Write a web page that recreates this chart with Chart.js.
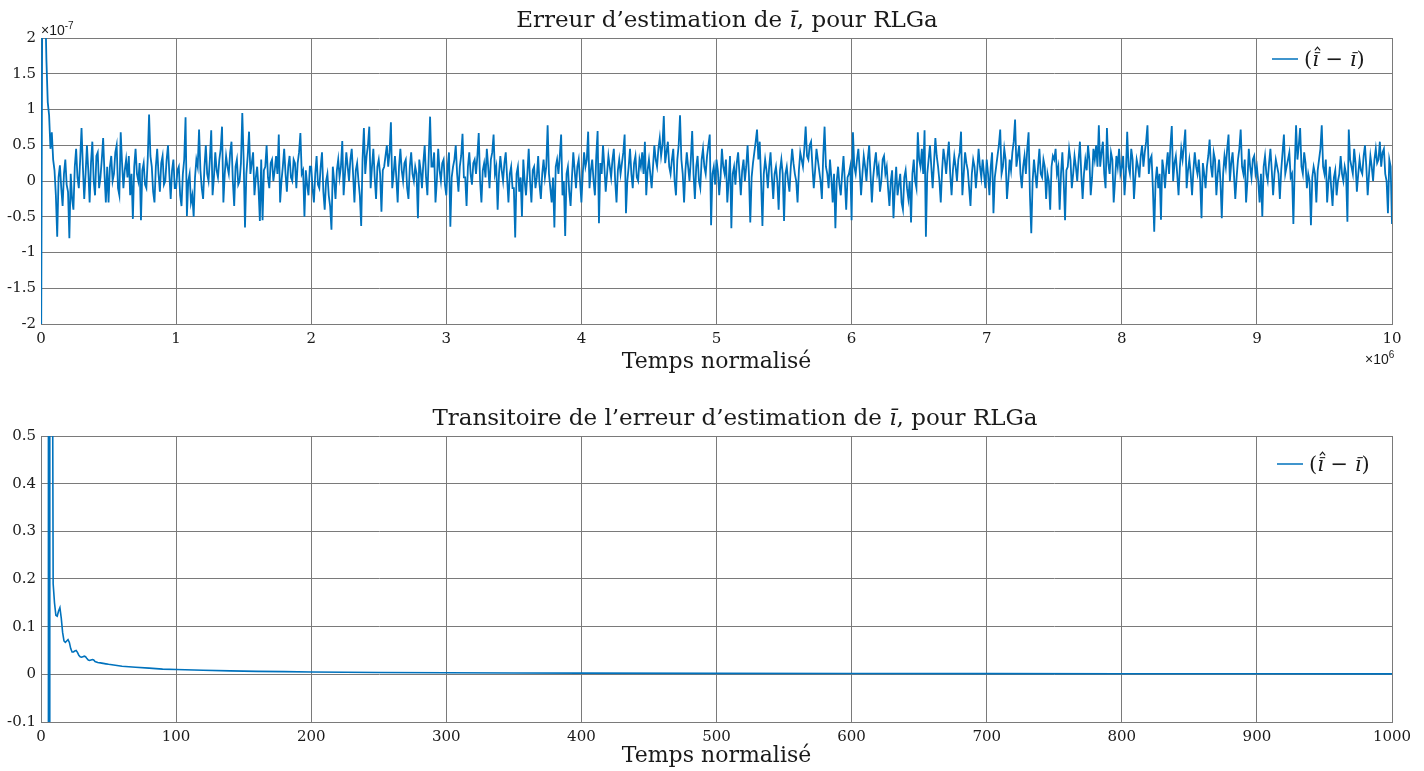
<!DOCTYPE html>
<html>
<head>
<meta charset="utf-8">
<title>Erreur d'estimation RLGa</title>
<script src="https://cdn.jsdelivr.net/npm/chart.js@4.4.1/dist/chart.umd.min.js"></script>
<style>
  html, body { margin: 0; padding: 0; background: #fff; }
  #wrap { position: relative; width: 1424px; height: 771px; }
  canvas { position: absolute; left: 0; }
  #top { top: 0; }
  #bottom { top: 385px; }
</style>
</head>
<body>
<div id="wrap">
  <canvas id="top" width="1424" height="385"></canvas>
  <canvas id="bottom" width="1424" height="386"></canvas>
</div>
<script>
// Data (top: x in 1e6, y in 1e-7 ; one sample every 0.01e6, 50 per row)

const errStep = 0.01;
const errValues = [
  -3.0, 3.0, 3.0, 2.6, 1.7, 1.1, 0.92, 0.45, 0.68, 0.3, 0.15, -0.2, -0.78, 0.05, 0.22, -0.1, -0.35, 0.1, 0.3, -0.05, -0.15, -0.8, 0.1, -0.25, -0.4,
  0.2, 0.45, 0.05, -0.1, 0.3, 0.74, 0.2, -0.25, 0.1, 0.5, 0.15, -0.3, 0.25, 0.55, 0.0, -0.2, 0.35, 0.4, -0.1, 0.05, 0.3, 0.6, 0.1, -0.3, 0.2,
  -0.3, 0.2, 0.35, 0.0, 0.1, 0.4, 0.5, -0.1, -0.2, 0.68, 0.25, -0.1, 0.15, 0.3, 0.05, 0.35, -0.2, 0.1, -0.53, 0.2, 0.45, 0.1, 0.0, 0.25, -0.55,
  0.15, 0.25, -0.05, -0.1, 0.3, 0.93, 0.35, 0.2, -0.15, -0.3, 0.2, 0.45, 0.1, -0.15, 0.25, 0.35, -0.05, 0.0, 0.3, 0.5, 0.1, -0.25, 0.15, 0.3, -0.1,
  -0.1, 0.15, 0.2, -0.2, -0.35, 0.1, 0.3, 0.89, -0.49, 0.0, 0.1, -0.3, -0.2, -0.5, 0.05, 0.3, 0.2, 0.72, 0.15, -0.1, -0.25, 0.2, 0.5, 0.1, 0.0,
  0.3, 0.71, -0.2, 0.05, 0.4, 0.15, 0.05, 0.3, 0.45, 0.76, -0.3, 0.1, 0.35, 0.2, 0.1, 0.4, 0.55, 0.0, -0.35, 0.2, 0.3, -0.05, 0.0, 0.25, 0.95,
  0.3, -0.65, 0.1, 0.35, 0.69, 0.1, 0.25, 0.4, -0.2, 0.05, 0.2, -0.1, -0.56, 0.3, -0.55, 0.15, 0.2, 0.5, 0.05, -0.1, 0.25, 0.3, 0.0, 0.15, 0.35,
  0.1, 0.65, -0.3, 0.0, 0.2, 0.45, 0.1, -0.15, 0.2, 0.35, 0.05, 0.0, 0.3, 0.25, -0.1, 0.25, 0.4, 0.67, 0.1, 0.15, -0.5, 0.15, -0.05, -0.2, 0.2,
  0.2, -0.1, -0.3, 0.1, 0.35, -0.05, -0.1, 0.2, 0.4, -0.15, -0.4, 0.0, 0.1, -0.2, -0.35, -0.68, 0.2, 0.0, -0.25, 0.15, 0.3, 0.05, 0.2, 0.56, -0.2,
  0.1, 0.4, 0.2, 0.0, 0.3, 0.45, 0.1, -0.3, 0.15, 0.25, 0.0, -0.2, -0.63, 0.3, 0.74, 0.1, 0.35, 0.5, 0.76, -0.1, 0.2, 0.45, 0.05, -0.25, 0.2,
  0.3, 0.1, -0.43, 0.15, 0.2, 0.35, 0.5, 0.2, 0.4, 0.82, -0.1, 0.1, 0.35, 0.05, -0.3, 0.2, 0.45, 0.15, 0.0, 0.25, 0.3, -0.1, -0.25, 0.2, 0.4,
  0.1, 0.0, 0.2, 0.1, -0.52, 0.3, 0.15, -0.1, 0.25, 0.5, 0.05, -0.2, 0.35, 0.9, 0.2, 0.2, 0.4, -0.3, 0.0, 0.45, 0.15, 0.0, 0.25, 0.3, -0.05,
  -0.2, 0.2, 0.4, -0.64, 0.05, 0.2, 0.3, 0.5, 0.1, -0.15, 0.2, 0.35, 0.66, 0.05, 0.05, -0.35, 0.2, 0.4, 0.1, -0.05, 0.25, 0.3, 0.1, 0.35, 0.67,
  0.0, -0.3, 0.15, 0.25, 0.05, 0.45, 0.2, -0.1, 0.3, 0.4, 0.65, 0.1, 0.2, -0.4, 0.1, 0.35, 0.15, 0.0, 0.25, 0.4, 0.05, -0.3, 0.1, 0.2, -0.1,
  -0.1, -0.79, 0.1, 0.2, -0.15, 0.05, -0.5, 0.3, 0.0, -0.2, 0.1, 0.45, 0.0, -0.3, 0.15, 0.2, -0.1, 0.05, 0.35, -0.05, -0.25, 0.1, 0.3, 0.05, 0.2,
  0.78, 0.1, -0.1, -0.3, 0.05, -0.65, 0.2, 0.3, 0.1, 0.35, 0.65, -0.2, 0.0, -0.77, 0.1, 0.2, -0.15, -0.35, 0.05, 0.4, 0.15, -0.1, 0.2, 0.3, 0.0,
  -0.3, 0.1, 0.4, 0.2, 0.3, 0.69, -0.1, 0.15, 0.3, 0.0, -0.2, 0.35, 0.7, -0.59, 0.25, 0.1, 0.5, 0.2, -0.15, 0.1, 0.35, 0.2, 0.05, 0.3, 0.45,
  0.0, -0.3, 0.15, 0.3, 0.1, 0.25, 0.4, 0.65, -0.45, 0.0, 0.2, 0.45, 0.1, -0.1, 0.25, 0.35, 0.05, 0.0, 0.3, 0.2, 0.4, 0.1, 0.55, -0.2, 0.15,
  0.3, 0.1, -0.1, 0.2, 0.5, 0.3, 0.2, 0.45, 0.6, 0.35, 0.5, 0.91, 0.25, 0.4, 0.55, 0.2, 0.1, 0.3, 0.45, 0.0, -0.2, 0.3, 0.5, 0.92, 0.3,
  0.1, -0.3, 0.15, 0.4, 0.2, 0.0, 0.3, 0.7, 0.1, -0.25, 0.2, 0.35, 0.0, -0.1, 0.3, 0.45, 0.2, 0.1, 0.35, 0.5, 0.65, -0.62, 0.1, 0.2, -0.05,
  0.3, 0.15, -0.2, 0.05, 0.45, 0.2, 0.1, 0.3, -0.3, 0.0, 0.35, -0.66, 0.1, 0.2, -0.05, 0.25, 0.4, 0.1, -0.2, 0.15, 0.3, 0.0, 0.2, 0.5, 0.1,
  -0.58, 0.05, 0.25, 0.4, 0.55, 0.72, 0.3, 0.55, 0.0, -0.63, 0.1, 0.3, 0.15, -0.1, 0.2, 0.4, 0.05, -0.25, 0.1, 0.2, 0.0, -0.4, 0.15, 0.3, 0.1,
  -0.56, 0.1, 0.2, 0.0, -0.15, 0.2, 0.45, 0.25, 0.1, 0.0, -0.3, 0.15, 0.4, 0.3, 0.2, 0.45, 0.76, 0.35, 0.3, 0.5, 0.55, 0.2, -0.1, 0.15, 0.45,
  0.3, 0.15, 0.0, -0.25, 0.35, 0.76, 0.2, 0.1, -0.1, 0.3, 0.05, -0.3, 0.1, -0.66, 0.0, 0.2, -0.05, -0.2, 0.1, 0.35, 0.0, -0.4, 0.05, 0.1, 0.2,
  -0.55, 0.68, 0.2, 0.1, 0.3, 0.45, 0.15, -0.2, 0.1, 0.35, 0.2, 0.0, 0.3, 0.5, 0.1, -0.3, 0.05, 0.25, 0.4, 0.1, 0.2, -0.15, 0.0, 0.3, 0.35,
  0.1, 0.2, -0.1, -0.35, 0.0, 0.15, -0.52, -0.1, 0.2, -0.2, -0.05, 0.1, -0.3, -0.4, 0.05, 0.15, -0.1, -0.25, 0.0, -0.58, 0.1, 0.3, 0.0, -0.1, 0.68,
  0.3, 0.2, 0.45, 0.1, 0.71, -0.78, 0.1, 0.3, 0.5, 0.2, -0.1, 0.25, 0.6, 0.35, 0.2, 0.0, -0.3, 0.15, 0.45, 0.3, 0.1, 0.35, 0.55, 0.1, -0.2,
  0.15, 0.35, 0.2, 0.0, 0.3, 0.4, 0.69, -0.2, 0.1, 0.4, 0.25, 0.15, -0.1, -0.35, 0.1, 0.3, 0.2, -0.1, 0.15, 0.45, 0.2, 0.05, 0.3, 0.1, -0.1,
  0.3, 0.1, -0.2, 0.2, 0.4, -0.45, 0.05, 0.2, 0.35, 0.5, 0.72, 0.1, 0.2, 0.45, 0.3, -0.25, 0.0, 0.3, 0.15, 0.4, 0.55, 0.86, 0.2, 0.35, 0.5,
  0.1, -0.1, 0.2, 0.35, 0.1, 0.45, 0.68, -0.2, -0.73, 0.0, 0.3, 0.1, -0.1, 0.2, 0.45, 0.1, 0.05, 0.3, 0.2, -0.25, 0.1, 0.0, -0.4, 0.2, 0.35,
  0.3, 0.45, 0.1, 0.2, -0.4, 0.1, 0.4, 0.0, -0.55, 0.15, 0.2, 0.45, 0.3, -0.1, 0.1, 0.35, 0.2, 0.0, 0.3, 0.55, 0.1, -0.25, 0.1, 0.3, 0.15,
  0.5, 0.3, -0.2, 0.05, 0.45, 0.3, 0.5, 0.2, 0.78, 0.2, 0.4, 0.55, 0.1, -0.1, 0.74, 0.25, 0.1, 0.4, 0.3, -0.3, 0.0, 0.35, 0.2, 0.45, 0.1,
  0.2, 0.35, -0.2, 0.1, 0.69, 0.2, 0.1, 0.45, 0.3, -0.25, 0.05, 0.3, 0.2, 0.05, 0.35, 0.5, 0.2, 0.4, 0.55, 0.78, 0.1, 0.3, 0.35, -0.1, -0.71,
  0.0, 0.2, -0.1, 0.1, -0.54, 0.3, 0.15, -0.1, 0.2, 0.4, 0.1, 0.5, 0.77, 0.0, 0.25, 0.35, 0.1, -0.2, 0.2, 0.45, 0.3, 0.5, 0.72, -0.1, 0.15,
  0.3, 0.1, -0.2, 0.15, 0.4, 0.2, 0.1, 0.3, 0.0, -0.52, 0.25, 0.1, -0.1, 0.2, 0.35, 0.58, 0.2, 0.05, 0.4, 0.3, -0.2, 0.1, 0.3, 0.0, -0.52,
  0.1, 0.35, 0.2, 0.45, 0.65, 0.0, 0.25, 0.4, 0.1, -0.25, 0.05, 0.3, 0.45, 0.72, 0.2, 0.1, 0.3, -0.3, 0.0, 0.45, 0.2, 0.05, 0.3, 0.35, 0.1,
  0.2, 0.0, -0.3, 0.1, -0.5, 0.2, 0.35, 0.1, 0.0, 0.25, 0.45, 0.15, -0.2, 0.1, 0.3, 0.2, 0.1, -0.25, 0.15, 0.4, 0.65, 0.1, 0.2, 0.3, 0.4,
  0.05, 0.1, -0.6, 0.2, 0.78, 0.3, 0.5, 0.74, 0.2, 0.1, 0.4, 0.25, -0.1, 0.1, 0.0, -0.62, 0.05, 0.2, 0.1, -0.3, 0.15, 0.3, 0.45, 0.78, 0.2,
  0.1, 0.3, -0.3, 0.0, 0.2, -0.1, -0.35, 0.05, 0.15, -0.2, 0.0, 0.1, 0.35, 0.1, 0.0, 0.2, 0.1, -0.57, 0.72, 0.3, 0.2, 0.1, 0.45, 0.25, -0.15,
  0.1, 0.3, 0.15, 0.1, 0.35, 0.5, 0.2, -0.2, 0.1, 0.35, 0.2, 0.0, 0.3, 0.45, 0.25, 0.3, 0.55, 0.2, 0.4, 0.45, 0.1, 0.0, -0.45, 0.3, 0.2,
  -0.6
];

// bottom: first 1000 normalised time steps
const transTime = [0, 5, 6, 7, 8, 9, 10, 11, 12, 13, 14, 15, 16, 17, 18, 19, 20, 21, 22, 23, 24, 25, 26, 27, 28, 29, 30,
  31, 32, 33, 34, 35, 36, 37, 38, 39, 40, 42, 44, 46, 48, 50, 55, 60, 65, 70, 80, 90, 100, 120, 140, 160, 180, 200,
  250, 300, 350, 400, 500, 600, 700, 800, 900, 1000];
const transValues = [40, 40, -40, 40, 1.2, 0.19, 0.15, 0.124, 0.122, 0.133, 0.14, 0.118, 0.088, 0.07, 0.067, 0.07, 0.073, 0.067, 0.054, 0.047, 0.047, 0.049, 0.05, 0.046, 0.04, 0.037, 0.036,
  0.037, 0.038, 0.037, 0.033, 0.03, 0.029, 0.03, 0.031, 0.03, 0.027, 0.025, 0.024, 0.023, 0.022, 0.021, 0.019, 0.017, 0.016, 0.015, 0.013, 0.011, 0.01, 0.0085, 0.0072, 0.0063, 0.0056, 0.005,
  0.004, 0.0034, 0.0029, 0.0025, 0.002, 0.0017, 0.0014, 0.0013, 0.0011, 0.001];

const xTicksTop = [0, 1, 2, 3, 4, 5, 6, 7, 8, 9, 10];
const yTicksTop = [-2, -1.5, -1, -0.5, 0, 0.5, 1, 1.5, 2];
const yLabelsTop = ['-2', '-1.5', '-1', '-0.5', '0', '0.5', '1', '1.5', '2'];
const xTicksBottom = [0, 100, 200, 300, 400, 500, 600, 700, 800, 900, 1000];
const yTicksBottom = [-0.1, 0, 0.1, 0.2, 0.3, 0.4, 0.5];
const yLabelsBottom = ['-0.1', '0', '0.1', '0.2', '0.3', '0.4', '0.5'];

// Styles

const BLUE = '#0072bd';
const GRID = '#7a7a7a';
const TEXT = '#1a1a1a';
const SERIF = '"DejaVu Serif", serif';
const SANS = '"Liberation Sans", sans-serif';
const tickFont = { family: SERIF, size: 15 };

function drawParts(ctx, parts, x, y, align) {
  let total = 0;
  parts.forEach(([t, f]) => {
    ctx.font = f;
    total += ctx.measureText(t).width;
  });
  let cx = x;
  if (align === 'center') cx = x - total / 2;
  ctx.textAlign = 'left';
  ctx.textBaseline = 'alphabetic';
  parts.forEach(([t, f, dy = 0]) => {
    ctx.font = f;
    ctx.fillText(t, cx, y + dy);
    cx += ctx.measureText(t).width;
  });
}

// (i-hat-bar minus i-bar), accents drawn by hand so they stack like LaTeX
function drawLegendText(ctx, x, y, size) {
  const up = `${size}px ${SERIF}`;
  const it = `italic ${size}px ${SERIF}`;
  let cx = x;
  const put = (t, f) => {
    ctx.font = f;
    ctx.fillText(t, cx, y);
    const w = ctx.measureText(t).width;
    cx += w;
    return w;
  };
  const dotlessI = (hat) => {
    const x0 = cx;
    const w = put('\u0131', it);
    const bx = x0 + w * 0.2 + size * 0.06;
    const by = y - size * 0.66;
    ctx.fillRect(bx, by, w * 0.8, Math.max(1, size * 0.05));
    if (hat) {
      ctx.beginPath();
      ctx.moveTo(bx, by - size * 0.08);
      ctx.lineTo(bx + w * 0.4, by - size * 0.24);
      ctx.lineTo(bx + w * 0.8, by - size * 0.08);
      ctx.lineWidth = 1.1;
      ctx.stroke();
    }
  };
  ctx.textAlign = 'left';
  ctx.textBaseline = 'alphabetic';
  ctx.strokeStyle = TEXT;
  put('(', up);
  dotlessI(true);
  put(' \u2212 ', up);
  dotlessI(false);
  put(')', up);
}

function titleParts(before) {
  const up = `23px ${SERIF}`;
  return [[before, up], ['\u0131\u0304', `italic 23px ${SERIF}`], [', pour RLGa', up]];
}

function annotations(cfg) {
  return {
    id: 'annotations',
    afterDraw(chart) {
      const { ctx } = chart;
      ctx.save();
      ctx.fillStyle = TEXT;
      drawParts(ctx, cfg.title, cfg.titleX, cfg.titleY, 'center');

      ctx.strokeStyle = BLUE;
      ctx.lineWidth = 1.5;
      ctx.beginPath();
      ctx.moveTo(cfg.legendX, cfg.legendY);
      ctx.lineTo(cfg.legendX + 26, cfg.legendY);
      ctx.stroke();
      drawLegendText(ctx, cfg.legendX + 32, cfg.legendY + 7, 21);

      (cfg.exponents || []).forEach((e) => {
        drawParts(ctx, [['\u00d710', `14px ${SANS}`], [e.power, `10px ${SANS}`, -6]], e.x, e.y, 'left');
      });
      ctx.restore();
    },
  };
}

function scaleOpts(ticks, labels, min, max, fit) {
  return {
    type: 'linear',
    min,
    max,
    afterBuildTicks: (scale) => {
      scale.ticks = ticks.map((v) => ({ value: v }));
    },
    afterFit: fit,
    grid: { color: GRID, lineWidth: 1, drawTicks: false },
    border: { color: GRID, width: 1 },
    ticks: {
      font: tickFont,
      color: TEXT,
      padding: 5,
      autoSkip: false,
      maxRotation: 0,
      callback: (v, i) => labels[i],
    },
  };
}

// Top chart: steady-state error

const topCtx = document.getElementById('top');
const topX = scaleOpts(xTicksTop, xTicksTop.map(String), 0, 10, (s) => { s.height = 61; });
topX.title = { display: true, text: 'Temps normalisé', color: TEXT, font: { family: SERIF, size: 22 }, padding: { top: 0, bottom: 10 } };
topX.ticks.padding = 6;

const topChart = new Chart(topCtx, {
  type: 'line',
  data: {
    datasets: [{
      label: '(\u0131\u0304\u0302 \u2212 \u0131\u0304)',
      data: errValues.map((v, i) => ({ x: i * errStep, y: v })),
      borderColor: BLUE,
      borderWidth: 1.8,
      pointRadius: 0,
      tension: 0,
    }],
  },
  options: {
    responsive: false,
    animation: false,
    layout: { padding: { top: 38, right: 32, left: 0, bottom: 0 } },
    plugins: { legend: { display: false }, tooltip: { enabled: false } },
    scales: {
      x: topX,
      y: scaleOpts(yTicksTop, yLabelsTop, -2, 2, (s) => { s.width = 41; }),
    },
  },
  plugins: [annotations({
    title: titleParts('Erreur d\u2019estimation de '),
    titleX: 727,
    titleY: 27,
    legendX: 1272,
    legendY: 59,
    exponents: [{ x: 41, y: 35, power: '-7' }, { x: 1365, y: 364, power: '6' }],
  })],
});

// Bottom chart: transient

const botCtx = document.getElementById('bottom');
const botX = scaleOpts(xTicksBottom, xTicksBottom.map(String), 0, 1000, (s) => { s.height = 49; });
botX.title = { display: true, text: 'Temps normalisé', color: TEXT, font: { family: SERIF, size: 22 }, padding: { top: 0, bottom: 2 } };
botX.ticks.padding = 6;

const botChart = new Chart(botCtx, {
  type: 'line',
  data: {
    datasets: [{
      label: '(\u0131\u0304\u0302 \u2212 \u0131\u0304)',
      data: transTime.map((t, i) => ({ x: t, y: transValues[i] })),
      borderColor: BLUE,
      borderWidth: 1.6,
      pointRadius: 0,
      tension: 0,
    }],
  },
  options: {
    responsive: false,
    animation: false,
    layout: { padding: { top: 51, right: 32, left: 0, bottom: 0 } },
    plugins: { legend: { display: false }, tooltip: { enabled: false } },
    scales: {
      x: botX,
      y: scaleOpts(yTicksBottom, yLabelsBottom, -0.1, 0.5, (s) => { s.width = 41; }),
    },
  },
  plugins: [annotations({
    title: titleParts('Transitoire de l\u2019erreur d\u2019estimation de '),
    titleX: 735,
    titleY: 40,
    legendX: 1277,
    legendY: 79,
  })],
});
</script>
</body>
</html>
